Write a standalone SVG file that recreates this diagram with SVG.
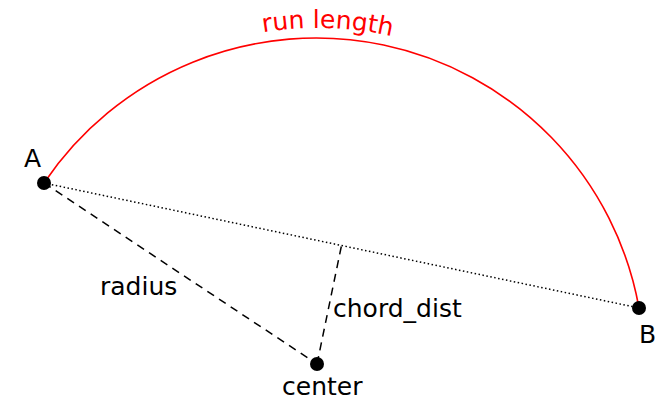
<svg xmlns="http://www.w3.org/2000/svg" width="656" height="399" viewBox="0 0 656 399">
<style>
text{font-family:"DejaVu Sans","Liberation Sans",sans-serif;font-size:25px;fill:#000}
.dash{stroke:#000;stroke-width:1.5;fill:none;stroke-dasharray:8,6}
.dot{stroke:#000;stroke-width:1.5;fill:none;stroke-dasharray:1.5,2.5}
.pt{fill:#000}
</style>
<defs>
<path id="tp" d="M 0.3,249.7 A 337,337 0 0 1 633.7,249.7" fill="none"/>
</defs>
<rect width="656" height="399" fill="#fff"/>
<g id="connectors">
<path id="arc" d="M 44,183 A 328,328 0 0 1 639,308" fill="none" stroke="#ff0000" stroke-width="1.6"/>
<line class="dot" x1="44" y1="183" x2="639" y2="308"/>
<line class="dash" x1="44" y1="183" x2="317" y2="364"/>
<line class="dash" x1="317" y1="364" x2="341.5" y2="245.5"/>
</g>
<g id="A"><circle class="pt" cx="44" cy="183" r="7"/><text x="24" y="167">A</text></g>
<g id="B"><circle class="pt" cx="639" cy="308" r="7"/><text x="639" y="343">B</text></g>
<g id="center"><circle class="pt" cx="317" cy="364" r="7"/><text x="282" y="395">center</text></g>
<g id="labels">
<text x="100" y="295">radius</text>
<text x="333" y="317">chord_dist</text>
<text style="fill:#ff0000" text-anchor="middle"><textPath href="#tp" startOffset="51.3%">run length</textPath></text>
</g>
</svg>
